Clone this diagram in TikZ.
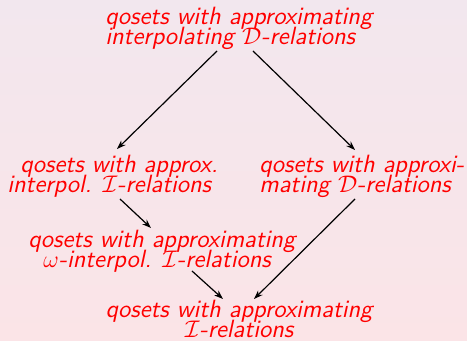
\documentclass[tikz,border=0pt]{standalone}
\usetikzlibrary{arrows.meta,calc}
\definecolor{bgtop}{RGB}{242,231,238}
\definecolor{bgbot}{RGB}{251,228,231}
\begin{document}
\begin{tikzpicture}[x=0.5pt,y=-0.5pt,
  lbl/.style={inner sep=0pt, text=red, align=left,
    font={\fontsize{12.5}{10}\selectfont\sffamily\slshape\lineskiplimit=-20pt\relax}},
  arr/.style={-{Stealth[length=4.5pt,width=3.2pt]}, line width=0.6pt, black}]
  % background
  \shade[top color=bgtop, bottom color=bgbot] (0,0) rectangle (467,341);
  \useasboundingbox (0,0) rectangle (467,341);
  % statements (anchored at the baseline of their last line)
  \node[lbl, anchor=base west] (top) at (105,45)
    {qosets with approximating\\interpolating $\mathcal{D}$-relations};
  \node[lbl, anchor=base west] (lm) at (7,193)
    {\hspace*{6.5pt}qosets with approx.\\interpol. $\mathcal{I}$-relations};
  \node[lbl, anchor=base west] (rm) at (259,193)
    {qosets with approxi-\\mating $\mathcal{D}$-relations};
  \node[lbl, anchor=base west] (om) at (28,268)
    {qosets with approximating\\\hspace*{7.5pt}$\omega$-interpol. $\mathcal{I}$-relations};
  \node[lbl, align=center, anchor=base] (bt) at (239,338)
    {qosets with approximating\\$\mathcal{I}$-relations};
  % implications
  \draw[arr] ($(top.base west)+(112,6)$) -- ($(lm.base west)+(110,-44)$);
  \draw[arr] ($(top.base west)+(148,6)$) -- ($(rm.base west)+(96,-43)$);
  \draw[arr] ($(lm.base west)+(113,6)$) -- ($(om.base west)+(123,-40)$);
  \draw[arr] ($(om.base west)+(164,3)$) -- ($(bt.base)+(-16,-39)$);
  \draw[arr] ($(rm.base west)+(96,6)$) -- ($(bt.base)+(15,-39)$);
\end{tikzpicture}
\end{document}
